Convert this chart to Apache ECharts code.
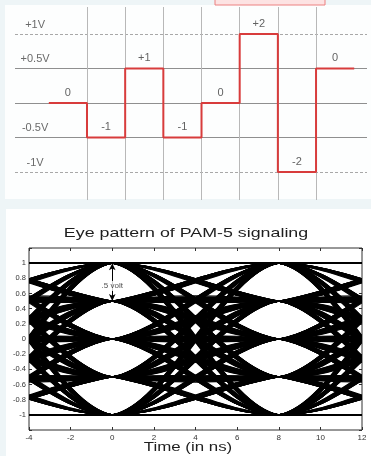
<!DOCTYPE html>
<html>
<head>
<meta charset="utf-8">
<script src="https://cdn.jsdelivr.net/npm/echarts@6/dist/echarts.min.js"></script>
<style>
  html, body { margin: 0; padding: 0; background: #eef5f7; }
  #chart { width: 371px; height: 456px; }
</style>
</head>
<body>
<div id="chart"></div>
<script>
// ---- PAM-5 symbol stream (upper panel) ----
const symbolLabels = ['0', '-1', '+1', '-1', '0', '+2', '-2', '0'];
const symbolVolts = [0, -0.5, 0.5, -0.5, 0, 1, -1, 0.5];
const firstSlot = -1;                         // slot index where the stream begins
const slotBoundaries = [0, 1, 2, 3, 4, 5, 6]; // vertical clock lines
const voltLevels = [1, 0.5, 0, -0.5, -1];
const voltLabels = ['+1V', '+0.5V', '', '-0.5V', '-1V'];

// ---- Eye pattern (lower panel) ----
const eyeTitle = 'Eye pattern of PAM-5 signaling';
const eyeAxisName = 'Time (in ns)';
const eyeLevels = [-1, -0.5, 0, 0.5, 1];
const eyeSegmentStarts = [-8, 0, 8];   // symbol instants whose transitions cross the window
const eyeSymbolPeriod = 8;             // ns
const eyeMarkerFrom = 1;
const eyeMarkerTo = 0.5;
const eyeMarkerText = '.5 volt';

// transition shape: handle length (fraction of a period) and neighbour pull
const EDGE_HANDLE = 0.33;
const NEIGHBOUR_PULL = 0.06;

const FONT = 'Liberation Sans, Arial, sans-serif';

// step waveform: each symbol holds its level for one slot
const stepData = symbolVolts.map((v, i) => [firstSlot + i, v]);
stepData.push([firstSlot + symbolVolts.length, symbolVolts[symbolVolts.length - 1]]);

// symbol names sit above the middle of each slot
const symbolLabelData = symbolVolts.map((v, i) => ({ value: [firstSlot + i + 0.5, v], name: symbolLabels[i] }));

// voltage names sit above their reference lines, at the left
const voltLabelData = voltLevels
  .map((v, i) => ({ value: [-1.36, v], name: voltLabels[i] }))
  .filter(d => d.name !== '');

// one transition per item: [start time, previous, from, to, next] symbol levels
const eyeTransitions = [];
eyeSegmentStarts.forEach(t0 =>
  eyeLevels.forEach(prev => eyeLevels.forEach(from => eyeLevels.forEach(to => eyeLevels.forEach(next => {
    eyeTransitions.push([t0, prev, from, to, next]);
  })))));

const levelMin = Math.min.apply(null, eyeLevels);
const levelMax = Math.max.apply(null, eyeLevels);
const keepInRange = v => Math.max(levelMin, Math.min(levelMax, v));

function renderTransition(params, api) {
  const t0 = api.value(0), prev = api.value(1), from = api.value(2), to = api.value(3), next = api.value(4);
  const T = eyeSymbolPeriod;
  const p0 = api.coord([t0, from]);
  const c0 = api.coord([t0 + EDGE_HANDLE * T, keepInRange(from + NEIGHBOUR_PULL * (to - prev))]);
  const c1 = api.coord([t0 + T - EDGE_HANDLE * T, keepInRange(to - NEIGHBOUR_PULL * (next - from))]);
  const p1 = api.coord([t0 + T, to]);
  const cs = params.coordSys;
  return {
    type: 'bezierCurve',
    silent: true,
    clipPath: { type: 'rect', shape: { x: cs.x, y: cs.y, width: cs.width, height: cs.height } },
    shape: { x1: p0[0], y1: p0[1], cpx1: c0[0], cpy1: c0[1], cpx2: c1[0], cpy2: c1[1], x2: p1[0], y2: p1[1] },
    style: { stroke: '#000', lineWidth: 1.1, fill: null }
  };
}

const chart = echarts.init(document.getElementById('chart'), null, { renderer: 'canvas' });

const hLine = (v) => {
  const edge = Math.abs(v) === 1;
  return { yAxis: v, lineStyle: { color: edge ? '#a8a8a8' : '#8f8f8f', width: 1, type: edge ? [3, 2] : 'solid' } };
};
const vLine = (x) => ({ xAxis: x, lineStyle: { color: '#b8b8b8', width: 1, type: 'solid' } });

const eyeAxisCommon = {
  gridIndex: 1, type: 'value',
  axisLine: { show: false, onZero: false }, splitLine: { show: false },
  axisTick: { inside: true, length: 3, lineStyle: { color: '#303030' } }
};

chart.setOption({
  animation: false,
  backgroundColor: '#eef5f7',
  textStyle: { fontFamily: FONT },
  graphic: [
    { type: 'rect', z: -10, shape: { x: 5, y: 5, width: 366, height: 194 }, style: { fill: '#fdfefe' } },
    { type: 'rect', z: -10, shape: { x: 6, y: 209, width: 365, height: 247 }, style: { fill: '#ffffff' } },
    { type: 'rect', z: 10, shape: { x: 215, y: -2, width: 110, height: 7 }, style: { fill: '#fde3e3', stroke: '#ec8080', lineWidth: 1 } },
    { type: 'text', z: 10, x: 186, y: 233, scaleX: 1.32,
      style: { text: eyeTitle, font: '13.5px ' + FONT, fill: '#1e1e1e', align: 'center', verticalAlign: 'middle' } },
    { type: 'text', z: 10, x: 188, y: 448, scaleX: 1.35,
      style: { text: eyeAxisName, font: '12.5px ' + FONT, fill: '#1e1e1e', align: 'center', verticalAlign: 'middle' } }
  ],
  grid: [
    { left: 15, right: 4, top: 7, height: 193 },
    { left: 29, width: 333, top: 248, height: 182, show: true, borderColor: '#303030', borderWidth: 1, backgroundColor: 'transparent' }
  ],
  xAxis: [
    { gridIndex: 0, type: 'value', min: -1.886, max: 7.335, show: false },
    Object.assign({}, eyeAxisCommon, { min: -4, max: 12, interval: 2,
      axisLabel: { fontSize: 8, color: '#333', margin: 4 } }),
    Object.assign({}, eyeAxisCommon, { position: 'top', min: -4, max: 12, interval: 2, axisLabel: { show: false } })
  ],
  yAxis: [
    { gridIndex: 0, type: 'value', min: -1.406, max: 1.391, show: false },
    Object.assign({}, eyeAxisCommon, { min: -1.2, max: 1.2, interval: 0.2,
      axisLabel: { fontSize: 7.5, color: '#333', margin: 3,
        formatter: v => (Math.abs(v) > 1.01 ? '' : String(Math.round(v * 10) / 10)) } }),
    Object.assign({}, eyeAxisCommon, { position: 'right', min: -1.2, max: 1.2, interval: 0.2, axisLabel: { show: false } })
  ],
  series: [
    // reference grid of the symbol panel
    { type: 'line', xAxisIndex: 0, yAxisIndex: 0, data: [], silent: true, z: 1,
      markLine: { silent: true, z: 1, symbol: 'none', label: { show: false }, animation: false,
        data: voltLevels.map(hLine).concat(slotBoundaries.map(vLine)) } },
    // PAM-5 waveform
    { type: 'line', xAxisIndex: 0, yAxisIndex: 0, step: 'end', data: stepData,
      showSymbol: false, silent: true, z: 6, lineStyle: { color: '#d83c3c', width: 2 } },
    // symbol names
    { type: 'scatter', xAxisIndex: 0, yAxisIndex: 0, data: symbolLabelData, symbolSize: 0, silent: true, z: 7,
      label: { show: true, position: 'top', distance: 5, formatter: p => p.name, fontSize: 11, color: '#3a3a3a', fontFamily: FONT } },
    // voltage names
    { type: 'scatter', xAxisIndex: 0, yAxisIndex: 0, data: voltLabelData, symbolSize: 0, silent: true, z: 7,
      label: { show: true, position: 'top', distance: 4, formatter: p => p.name, fontSize: 11, color: '#444', fontFamily: FONT } },
    // eye traces
    { type: 'custom', xAxisIndex: 1, yAxisIndex: 1, data: eyeTransitions, renderItem: renderTransition,
      progressive: 0, progressiveThreshold: 1e7, clip: true, silent: true, z: 2 },
    // level-spacing marker
    { type: 'line', xAxisIndex: 1, yAxisIndex: 1, data: [], silent: true, z: 8,
      markLine: { silent: true, z: 8, animation: false, symbol: ['arrow', 'arrow'], symbolSize: [5, 7],
        lineStyle: { color: '#000', width: 1, type: 'solid' }, label: { show: false },
        data: [[{ coord: [0, eyeMarkerFrom] }, { coord: [0, eyeMarkerTo] }]] } },
    { type: 'scatter', xAxisIndex: 1, yAxisIndex: 1, symbolSize: 0, silent: true, z: 9,
      data: [[0, (eyeMarkerFrom + eyeMarkerTo) / 2 - 0.05]],
      label: { show: true, position: 'inside', formatter: eyeMarkerText, fontSize: 8, color: '#222',
        backgroundColor: '#fff', padding: [1, 2], fontFamily: FONT } }
  ]
});
</script>
</body>
</html>
